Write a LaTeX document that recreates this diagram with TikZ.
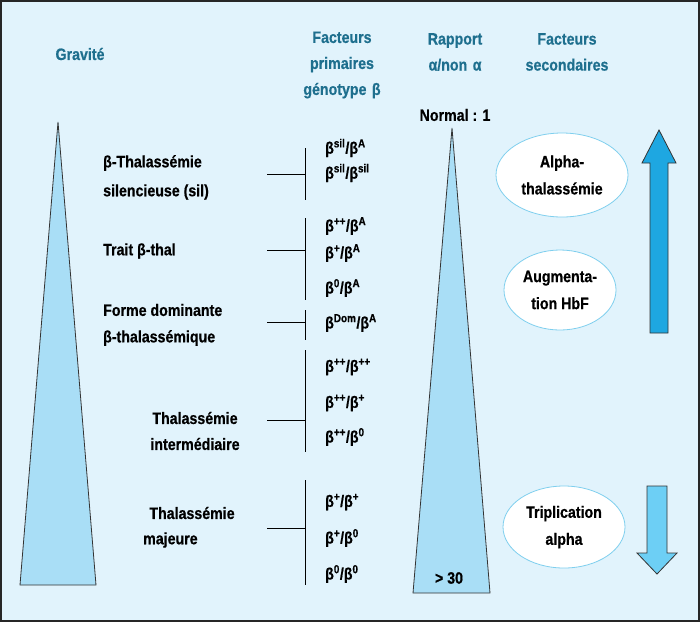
\documentclass[tikz,border=0pt]{standalone}
\usepackage{fontspec}
\setmainfont{Liberation Sans}[FakeStretch=0.86, FakeBold=0.6]
\usetikzlibrary{shapes.geometric}
\begin{document}
\begin{tikzpicture}[x=1pt,y=-1pt,
  every node/.style={font=\fontsize{16.5}{19}\selectfont\bfseries, inner sep=0pt},
  head/.style={text=teal0, align=center},
  lbl/.style={anchor=west, text=black},
  geno/.style={anchor=west, text=black},
  tri/.style={fill=trifill, draw=black!80, line width=0.8pt},
  ell/.style={ellipse, draw=ellborder, fill=white, line width=0.8pt, align=center, text=black},
  br/.style={line width=0.8pt, draw=black}]
\definecolor{bg}{HTML}{E1F3FC}
\definecolor{teal0}{HTML}{1E6F8E}
\definecolor{trifill}{HTML}{A9DEF6}
\definecolor{ellborder}{HTML}{7FCFEE}
\definecolor{uparrow}{HTML}{1EA7E1}
\definecolor{downarrow}{HTML}{6DCFF5}
\useasboundingbox (0,0) rectangle (700,622);
\draw[fill=bg, draw=black!85, line width=1.5pt] (1,1) rectangle (699,621);
% headers
\node[head] (grav) at (80,54) {Gravité};
\node[head, text width=110pt] (fp) at (342,65) {Facteurs\\[7pt]primaires\\[7pt]génotype β};
\node[head, text width=90pt] (rap) at (455,52) {Rapport\\[7pt]α/non α};
\node[head, text width=110pt] (fs) at (567,52) {Facteurs\\[7pt]secondaires};
% triangles
\draw[tri] (58,122) -- (96,585) -- (20,585) -- cycle;
\draw[tri] (452,128) -- (490,593) -- (413,593) -- cycle;
\node (norm) at (455,115) {Normal : 1};
\node (g30) at (449,578) {> 30};
% ellipses
\node[ell, minimum width=132pt, minimum height=84pt] (e1) at (562,175) {Alpha-\\[8pt]thalassémie};
\node[ell, minimum width=112pt, minimum height=80pt] (e2) at (560,290) {Augmenta-\\[8pt]tion HbF};
\node[ell, minimum width=122pt, minimum height=82pt] (e3) at (564,527) {Triplication\\[8pt]alpha};
% arrows
\draw[fill=uparrow, draw=black!80, line width=0.8pt] (659,130) -- (676,163) -- (668,163) -- (668,333) -- (650,333) -- (650,163) -- (642,163) -- cycle;
\draw[fill=downarrow, draw=black!80, line width=0.8pt] (647,486) -- (667,486) -- (667,553) -- (677,553) -- (657,574) -- (637,553) -- (647,553) -- cycle;
% left labels
\node[lbl] (l1a) at (103,163) {β-Thalassémie};
\node[lbl] (l1b) at (103,192) {silencieuse (sil)};
\node[lbl] (l2) at (103,251) {Trait β-thal};
\node[lbl] (l3a) at (103,310) {Forme dominante};
\node[lbl] (l3b) at (103,338) {β-thalassémique};
\node (l4a) at (195,418) {Thalassémie};
\node (l4b) at (195,444) {intermédiaire};
\node (l5a) at (192,513) {Thalassémie};
\node[anchor=west] (l5b) at (143,540) {majeure};
% brackets
\coordinate (b1t) at (305,148); \coordinate (b1b) at (305,200); \coordinate (b1l) at (267,174); \coordinate (b1m) at (305,174);
\draw[br] (b1t) -- (b1b); \draw[br] (b1l) -- (b1m);
\coordinate (b2t) at (305,218); \coordinate (b2b) at (305,300); \coordinate (b2l) at (267,250); \coordinate (b2m) at (305,250);
\draw[br] (b2t) -- (b2b); \draw[br] (b2l) -- (b2m);
\coordinate (b3t) at (305,310); \coordinate (b3b) at (305,340); \coordinate (b3l) at (267,322); \coordinate (b3m) at (305,322);
\draw[br] (b3t) -- (b3b); \draw[br] (b3l) -- (b3m);
\coordinate (b4t) at (305,350); \coordinate (b4b) at (305,452); \coordinate (b4l) at (267,420); \coordinate (b4m) at (305,420);
\draw[br] (b4t) -- (b4b); \draw[br] (b4l) -- (b4m);
\coordinate (b5t) at (305,480); \coordinate (b5b) at (305,585); \coordinate (b5l) at (267,528); \coordinate (b5m) at (305,528);
\draw[br] (b5t) -- (b5b); \draw[br] (b5l) -- (b5m);
% genotypes
\node[geno] (g1) at (325,148) {β\textsuperscript{sil}/β\textsuperscript{A}};
\node[geno] (g2) at (325,173) {β\textsuperscript{sil}/β\textsuperscript{sil}};
\node[geno] (g3) at (325,226) {β\textsuperscript{++}/β\textsuperscript{A}};
\node[geno] (g4) at (325,253) {β\textsuperscript{+}/β\textsuperscript{A}};
\node[geno] (g5) at (325,288) {β\textsuperscript{0}/β\textsuperscript{A}};
\node[geno] (g6) at (325,323) {β\textsuperscript{Dom}/β\textsuperscript{A}};
\node[geno] (g7) at (325,367) {β\textsuperscript{++}/β\textsuperscript{++}};
\node[geno] (g8) at (325,403) {β\textsuperscript{++}/β\textsuperscript{+}};
\node[geno] (g9) at (325,437) {β\textsuperscript{++}/β\textsuperscript{0}};
\node[geno] (g10) at (325,502) {β\textsuperscript{+}/β\textsuperscript{+}};
\node[geno] (g11) at (325,538) {β\textsuperscript{+}/β\textsuperscript{0}};
\node[geno] (g12) at (325,574) {β\textsuperscript{0}/β\textsuperscript{0}};
\end{tikzpicture}
\end{document}
